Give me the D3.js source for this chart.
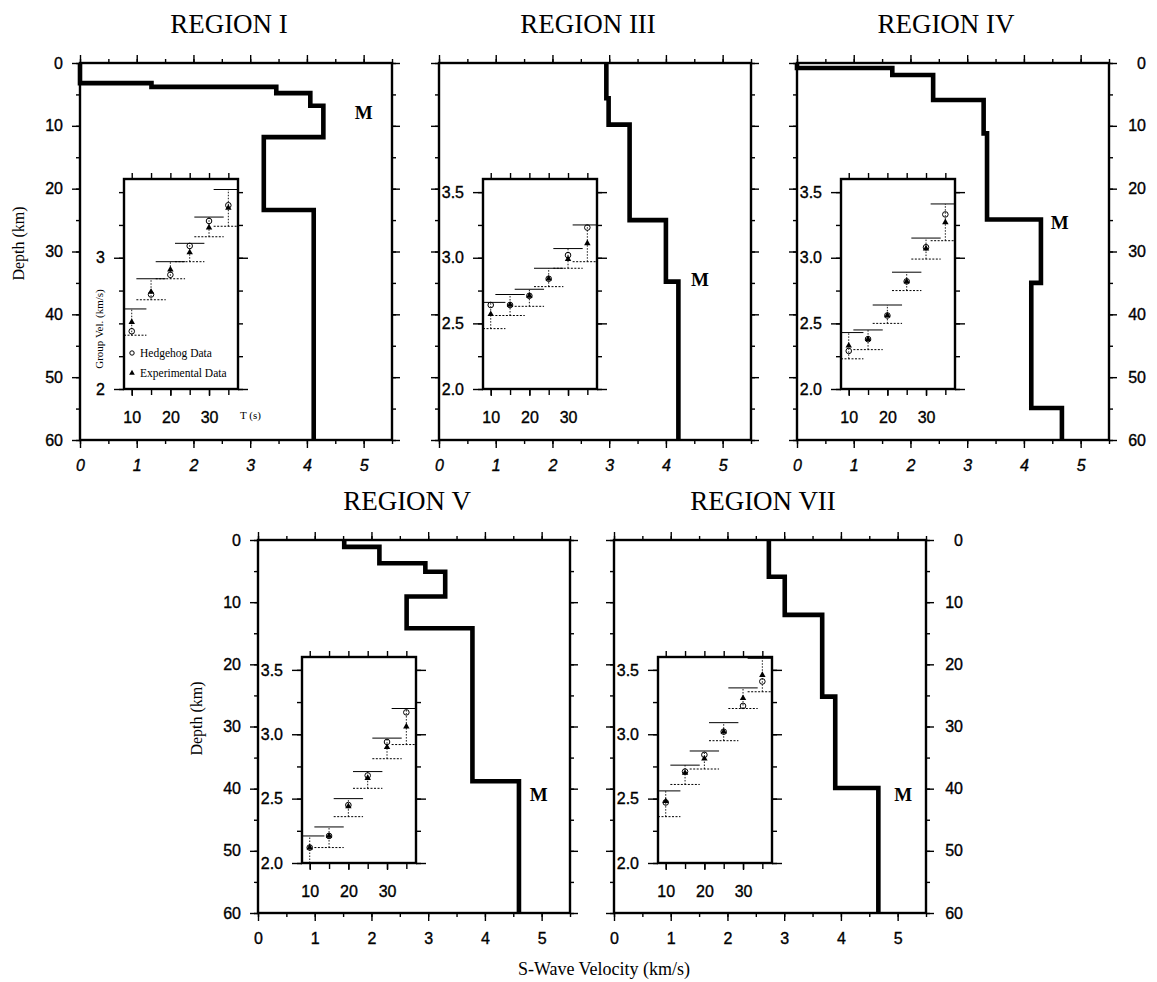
<!DOCTYPE html>
<html>
<head>
<meta charset="utf-8">
<script src="https://cdn.jsdelivr.net/npm/d3@7"></script>
<style>
body { margin: 0; background: #fff; }
svg text { fill: #000; }
.tick text { font-family: "Liberation Sans", Arial, sans-serif; font-size: 16px; stroke: #000; stroke-width: 0.35px; }
.tick line { stroke: #000; stroke-width: 1.4; }
.serif { font-family: "Liberation Serif", "Times New Roman", serif; }
</style>
</head>
<body>
<script>
// Velocity models: depth to the top of each layer (km) and S-wave velocity (km/s)
var depthI = [0, 3.2, 3.8, 4.8, 6.8, 11.8, 23.4];
var velI = [0, 1.26, 3.46, 4.06, 4.29, 3.24, 4.12];

var depthIII = [0, 5.6, 9.8, 25, 34.8];
var velIII = [2.95, 2.99, 3.36, 4.0, 4.22];

var depthIV = [0, 0.8, 1.9, 5.9, 11.2, 24.9, 35, 54.9];
var velIV = [0, 1.68, 2.4, 3.29, 3.35, 4.3, 4.13, 4.67];

var depthV = [0, 1.1, 3.75, 5.1, 9.1, 14.2, 38.8];
var velV = [1.52, 2.14, 2.95, 3.3, 2.62, 3.78, 4.6];

var depthVII = [0, 5.9, 12.05, 25.2, 39.9];
var velVII = [2.73, 3.01, 3.67, 3.9, 4.66];

// Group velocity dispersion (insets)
var periods = [10, 15, 20, 25, 30, 35];

var hedgehogI = [2.44, 2.72, 2.87, 3.09, 3.28, 3.40];
var experimentalI = [2.51, 2.74, 2.91, 3.04, 3.23, 3.38];
var upperI = [2.61, 2.84, 2.97, 3.11, 3.31, 3.52];
var lowerI = [2.41, 2.68, 2.84, 2.97, 3.16, 3.24];

var hedgehogIII = [2.64, 2.64, 2.71, 2.84, 3.02, 3.23];
var experimentalIII = [2.57, 2.64, 2.71, 2.84, 2.99, 3.11];
var upperIII = [2.66, 2.72, 2.76, 2.92, 3.07, 3.25];
var lowerIII = [2.46, 2.56, 2.63, 2.78, 2.92, 2.97];

var hedgehogIV = [2.29, 2.38, 2.56, 2.82, 3.08, 3.33];
var experimentalIV = [2.33, 2.38, 2.56, 2.82, 3.07, 3.27];
var upperIV = [2.43, 2.45, 2.64, 2.89, 3.15, 3.41];
var lowerIV = [2.23, 2.30, 2.50, 2.75, 2.99, 3.13];

var hedgehogV = [2.12, 2.21, 2.45, 2.68, 2.94, 3.17];
var experimentalV = [2.12, 2.21, 2.44, 2.66, 2.90, 3.06];
var upperV = [2.21, 2.28, 2.50, 2.71, 2.97, 3.20];
var lowerV = [2.00, 2.12, 2.36, 2.58, 2.81, 2.92];

var hedgehogVII = [2.47, 2.71, 2.84, 3.02, 3.22, 3.41];
var experimentalVII = [2.48, 2.70, 2.81, 3.02, 3.28, 3.46];
var upperVII = [2.56, 2.76, 2.87, 3.09, 3.36, 3.59];
var lowerVII = [2.36, 2.61, 2.73, 2.95, 3.20, 3.33];

// Tick labels
var velTicks = [0, 1, 2, 3, 4, 5];
var depthTicks = [0, 10, 20, 30, 40, 50, 60];
var periodTicks = [10, 20, 30];
var groupTicksI = [2, 3];
var groupTicks = [2.0, 2.5, 3.0, 3.5];

var svg = d3.select("body").append("svg")
    .attr("width", 1157)
    .attr("height", 982);

// panel layout
var panelW = 312;
var panels = [
    {title: "REGION I", depth: depthI, vel: velI, hh: hedgehogI, exp: experimentalI, hi: upperI, lo: lowerI,
     left: 80, top: 63, h: 377, leftLabels: true, rightLabels: false, italic: true, first: true, moho: [5.0, 8]},
    {title: "REGION III", depth: depthIII, vel: velIII, hh: hedgehogIII, exp: experimentalIII, hi: upperIII, lo: lowerIII,
     left: 439, top: 63, h: 377, leftLabels: false, rightLabels: false, italic: true, first: false, moho: [4.6, 34.5]},
    {title: "REGION IV", depth: depthIV, vel: velIV, hh: hedgehogIV, exp: experimentalIV, hi: upperIV, lo: lowerIV,
     left: 797, top: 63, h: 377, leftLabels: false, rightLabels: true, italic: true, first: false, moho: [4.63, 25.5]},
    {title: "REGION V", depth: depthV, vel: velV, hh: hedgehogV, exp: experimentalV, hi: upperV, lo: lowerV,
     left: 258, top: 540, h: 373, leftLabels: true, rightLabels: false, italic: false, first: false, moho: [4.95, 41]},
    {title: "REGION VII", depth: depthVII, vel: velVII, hh: hedgehogVII, exp: experimentalVII, hi: upperVII, lo: lowerVII,
     left: 614, top: 540, h: 373, leftLabels: false, rightLabels: true, italic: false, first: false, moho: [5.1, 41]}
];

panels.forEach(drawPanel);

// common x label
svg.append("text")
    .attr("class", "serif")
    .attr("x", 604)
    .attr("y", 975)
    .attr("text-anchor", "middle")
    .style("font-size", "18px")
    .text("S-Wave Velocity (km/s)");

function drawPanel(p) {
    var x = d3.scaleLinear().domain([0, 5.5]).range([0, panelW]);
    var y = d3.scaleLinear().domain([0, 60]).range([0, p.h]);

    var g = svg.append("g")
        .attr("transform", "translate(" + p.left + "," + p.top + ")");

    // title
    svg.append("text")
        .attr("class", "serif")
        .attr("x", p.left + panelW / 2 - 7)
        .attr("y", p.top - 30)
        .attr("text-anchor", "middle")
        .style("font-size", "27px")
        .text(p.title);

    // minor ticks
    var minorV = d3.range(0, 5.51, 0.5);
    var minorD = d3.range(0, 60.1, 5);
    g.append("g").attr("transform", "translate(0," + p.h + ")")
        .call(d3.axisBottom(x).tickValues(minorV).tickSize(4).tickFormat(""));
    g.append("g")
        .call(d3.axisTop(x).tickValues(minorV).tickSize(4).tickFormat(""));
    g.append("g")
        .call(d3.axisLeft(y).tickValues(minorD).tickSize(4).tickFormat(""));
    g.append("g").attr("transform", "translate(" + panelW + ",0)")
        .call(d3.axisRight(y).tickValues(minorD).tickSize(4).tickFormat(""));

    // major ticks
    var xb = g.append("g").attr("transform", "translate(0," + p.h + ")")
        .call(d3.axisBottom(x).tickValues(velTicks).tickSize(8).tickPadding(12).tickFormat(d3.format("d")));
    if (p.italic) xb.selectAll("text").style("font-style", "italic");
    g.append("g")
        .call(d3.axisTop(x).tickValues(velTicks).tickSize(8).tickFormat(""));

    g.append("g")
        .call(d3.axisLeft(y).tickValues(depthTicks).tickSize(8).tickPadding(9)
            .tickFormat(p.leftLabels ? d3.format("d") : ""));
    var yr = g.append("g").attr("transform", "translate(" + panelW + ",0)")
        .call(d3.axisRight(y).tickValues(depthTicks).tickSize(8)
            .tickFormat(p.rightLabels ? d3.format("d") : ""));
    yr.selectAll("text").attr("text-anchor", "end").attr("x", 37);

    g.selectAll(".domain").remove();

    // frame
    g.append("rect")
        .attr("width", panelW)
        .attr("height", p.h)
        .attr("fill", "none")
        .attr("stroke", "#000")
        .attr("stroke-width", 2.4);

    if (p.leftLabels) {
        g.append("text")
            .attr("class", "serif")
            .attr("transform", "rotate(-90)")
            .attr("x", -p.h / 2 + 8)
            .attr("y", -56)
            .attr("text-anchor", "middle")
            .style("font-size", "16px")
            .text("Depth (km)");
    }

    // step velocity profile
    var pts = p.vel.map(function(v, i) { return [v, p.depth[i]]; });
    pts.push([p.vel[p.vel.length - 1], 60]);

    var profile = d3.line()
        .x(function(d) { return x(d[0]); })
        .y(function(d) { return y(d[1]); })
        .curve(d3.curveStepBefore);

    g.append("path")
        .attr("d", profile(pts))
        .attr("fill", "none")
        .attr("stroke", "#000")
        .attr("stroke-width", 4.6)
        .attr("stroke-linejoin", "miter");

    // Moho label
    g.append("text")
        .attr("class", "serif")
        .attr("x", x(p.moho[0]))
        .attr("y", y(p.moho[1]) + 6)
        .attr("text-anchor", "middle")
        .style("font-size", "19px")
        .style("font-weight", "bold")
        .text("M");

    drawInset(g, p);
}

function drawInset(g, p) {
    var iw = 114, ih = (p.top < 300) ? 210 : 206;
    var ix = d3.scaleLinear().domain([8, 37.5]).range([0, iw]);
    var iy = d3.scaleLinear().domain([2, 3.6]).range([ih, 0]);

    var ig = g.append("g")
        .attr("transform", "translate(44," + ((p.top < 300) ? 116 : 117) + ")");

    ig.append("rect")
        .attr("width", iw)
        .attr("height", ih)
        .attr("fill", "#fff");

    var minorT = d3.range(10, 36, 5);
    var minorG = d3.range(2, 3.6, 0.25);
    var majorG = p.first ? groupTicksI : groupTicks;

    ig.append("g").attr("transform", "translate(0," + ih + ")")
        .call(d3.axisBottom(ix).tickValues(minorT).tickSize(6).tickFormat(""));
    ig.append("g")
        .call(d3.axisTop(ix).tickValues(minorT).tickSize(6).tickFormat(""));
    ig.append("g").attr("transform", "translate(0," + ih + ")")
        .call(d3.axisBottom(ix).tickValues(periodTicks).tickSize(7).tickPadding(16).tickFormat(d3.format("d")));

    ig.append("g")
        .call(d3.axisLeft(iy).tickValues(minorG).tickSize(5).tickFormat(""));
    ig.append("g").attr("transform", "translate(" + iw + ",0)")
        .call(d3.axisRight(iy).tickValues(minorG).tickSize(5).tickFormat(""));
    ig.append("g")
        .call(d3.axisLeft(iy).tickValues(majorG).tickSize(10).tickPadding(9)
            .tickFormat(p.first ? d3.format("d") : d3.format(".1f")));
    ig.append("g").attr("transform", "translate(" + iw + ",0)")
        .call(d3.axisRight(iy).tickValues(majorG).tickSize(10).tickFormat(""));

    ig.selectAll(".domain").remove();

    ig.append("rect")
        .attr("width", iw)
        .attr("height", ih)
        .attr("fill", "none")
        .attr("stroke", "#000")
        .attr("stroke-width", 2.4);

    // error bars
    var half = 3.8;
    periods.forEach(function(t, i) {
        var x0 = ix(Math.max(8, t - half)), x1 = ix(Math.min(37.5, t + half));
        ig.append("line")
            .attr("x1", ix(t)).attr("x2", ix(t))
            .attr("y1", iy(p.lo[i])).attr("y2", iy(p.hi[i]))
            .attr("stroke", "#000").attr("stroke-width", 0.9)
            .attr("stroke-dasharray", "1.5,1.5");
        ig.append("line")
            .attr("x1", x0).attr("x2", x1)
            .attr("y1", iy(p.hi[i])).attr("y2", iy(p.hi[i]))
            .attr("stroke", "#000").attr("stroke-width", 1);
        ig.append("line")
            .attr("x1", x0).attr("x2", x1)
            .attr("y1", iy(p.lo[i])).attr("y2", iy(p.lo[i]))
            .attr("stroke", "#000").attr("stroke-width", 1)
            .attr("stroke-dasharray", "2,1.5");
    });

    var tri = d3.symbol().type(d3.symbolTriangle).size(18);
    ig.selectAll(".exp")
        .data(periods)
        .enter().append("path")
        .attr("class", "exp")
        .attr("d", tri)
        .attr("transform", function(t, i) { return "translate(" + ix(t) + "," + iy(p.exp[i]) + ")"; })
        .attr("fill", "#000");

    ig.selectAll(".hh")
        .data(periods)
        .enter().append("circle")
        .attr("class", "hh")
        .attr("cx", function(t) { return ix(t); })
        .attr("cy", function(t, i) { return iy(p.hh[i]); })
        .attr("r", 2.8)
        .attr("fill", "none")
        .attr("stroke", "#000")
        .attr("stroke-width", 1);

    if (p.first) {
        // axis label, legend and period label only in region I
        ig.append("text")
            .attr("class", "serif")
            .attr("transform", "rotate(-90)")
            .attr("x", -150)
            .attr("y", -21)
            .attr("text-anchor", "middle")
            .style("font-size", "11px")
            .text("Group Vel. (km/s)");

        ig.append("text")
            .attr("class", "serif")
            .attr("x", 116)
            .attr("y", 240)
            .style("font-size", "11px")
            .text("T (s)");

        ig.append("circle")
            .attr("cx", 8).attr("cy", 174).attr("r", 2.2)
            .attr("fill", "none").attr("stroke", "#000");
        ig.append("text")
            .attr("class", "serif")
            .attr("x", 16).attr("y", 178)
            .style("font-size", "11.5px")
            .text("Hedgehog Data");

        ig.append("path")
            .attr("d", d3.symbol().type(d3.symbolTriangle).size(14))
            .attr("transform", "translate(8,194)");
        ig.append("text")
            .attr("class", "serif")
            .attr("x", 16).attr("y", 198)
            .style("font-size", "11.5px")
            .text("Experimental Data");
    }
}
</script>
</body>
</html>
